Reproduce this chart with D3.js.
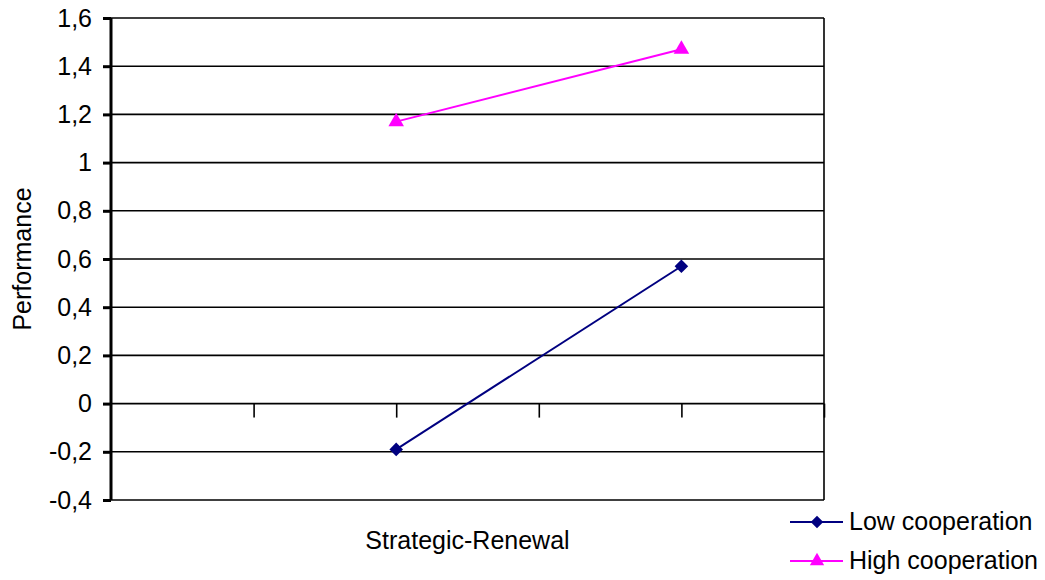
<!DOCTYPE html>
<html>
<head>
<meta charset="utf-8">
<script src="https://cdn.jsdelivr.net/npm/d3@7"></script>
<style>
  html, body { margin: 0; padding: 0; background: #fff; }
  svg { display: block; font-family: Arial, "Liberation Sans", sans-serif; }
</style>
</head>
<body>
<svg id="chart" width="1045" height="580"></svg>
<script>
// Interaction plot data
const positions = [2, 4];                 // x positions of the two levels on the category axis
const lowCooperation = [-0.19, 0.57];
const highCooperation = [1.17, 1.47];
const yTicks = [-0.4, -0.2, 0, 0.2, 0.4, 0.6, 0.8, 1, 1.2, 1.4, 1.6];
const xTicks = [1, 2, 3, 4, 5];
const seriesNames = ["Low cooperation", "High cooperation"];
const seriesColors = ["#000080", "#ff00ff"];

const svg = d3.select("#chart");
const plotLeft = 111, plotRight = 824, plotTop = 18, plotBottom = 500;
const fontSize = "25px";

const x = d3.scaleLinear().domain([0, 5]).range([plotLeft, plotRight]);
const y = d3.scaleLinear().domain([-0.4, 1.6]).range([plotBottom, plotTop]);

const fmt = v => String(+v.toFixed(1)).replace(".", ",");

// horizontal gridlines
svg.append("g")
  .selectAll("line")
  .data(yTicks)
  .join("line")
  .attr("x1", plotLeft).attr("x2", plotRight)
  .attr("y1", d => y(d)).attr("y2", d => y(d))
  .attr("stroke", "#000").attr("stroke-width", 1.6);

// right border of plot area
svg.append("line")
  .attr("x1", plotRight).attr("x2", plotRight)
  .attr("y1", plotTop).attr("y2", plotBottom)
  .attr("stroke", "#000").attr("stroke-width", 1.6);

// y axis
const yAxis = svg.append("g")
  .attr("transform", `translate(${plotLeft},0)`)
  .call(d3.axisLeft(y).tickValues(yTicks).tickSize(8).tickPadding(11).tickFormat(fmt));
yAxis.select(".domain").attr("stroke", "#000").attr("stroke-width", 3)
  .attr("d", `M0,${plotTop}V${plotBottom}`);
yAxis.selectAll(".tick line").attr("stroke", "#000").attr("stroke-width", 3);
yAxis.selectAll(".tick text").attr("fill", "#000").style("font-size", fontSize)
  .style("font-family", "Arial, 'Liberation Sans', sans-serif");

// category axis at zero
const xAxis = svg.append("g")
  .attr("transform", `translate(0,${y(0)})`)
  .call(d3.axisBottom(x).tickValues(xTicks).tickSize(14).tickFormat(""));
xAxis.select(".domain").remove();
xAxis.selectAll(".tick line").attr("stroke", "#000").attr("stroke-width", 1.6);

// axis titles
svg.append("text")
  .attr("x", (plotLeft + plotRight) / 2).attr("y", 549)
  .attr("text-anchor", "middle")
  .style("font-size", fontSize)
  .text("Strategic-Renewal");

svg.append("text")
  .attr("transform", `translate(31,${(plotTop + plotBottom) / 2}) rotate(-90)`)
  .attr("text-anchor", "middle")
  .style("font-size", fontSize)
  .text("Performance");

// series markers: a square turned 45° and an upward triangle
const markers = [
  { type: d3.symbolSquare, rotate: 45, size: 92 },
  { type: d3.symbolTriangle, rotate: 0, size: 105 }
];
const series = [lowCooperation, highCooperation];
const line = d3.line().x((d, i) => x(positions[i])).y(d => y(d));

series.forEach((vals, s) => {
  svg.append("path")
    .datum(vals)
    .attr("d", line)
    .attr("fill", "none")
    .attr("stroke", seriesColors[s])
    .attr("stroke-width", 2);
  svg.append("g")
    .selectAll("path")
    .data(vals)
    .join("path")
    .attr("transform", (d, i) => `translate(${x(positions[i])},${y(d)}) rotate(${markers[s].rotate})`)
    .attr("d", d3.symbol().type(markers[s].type).size(markers[s].size))
    .attr("fill", seriesColors[s]);
});

// legend
const legend = svg.append("g");
seriesNames.forEach((name, s) => {
  const ly = 522 + s * 39;
  legend.append("line")
    .attr("x1", 790).attr("x2", 843)
    .attr("y1", ly).attr("y2", ly)
    .attr("stroke", seriesColors[s]).attr("stroke-width", 2);
  legend.append("path")
    .attr("transform", `translate(817,${ly}) rotate(${markers[s].rotate})`)
    .attr("d", d3.symbol().type(markers[s].type).size(markers[s].size * 0.85))
    .attr("fill", seriesColors[s]);
  legend.append("text")
    .attr("x", 849).attr("y", ly + 8)
    .style("font-size", fontSize)
    .text(name);
});
</script>
</body>
</html>
